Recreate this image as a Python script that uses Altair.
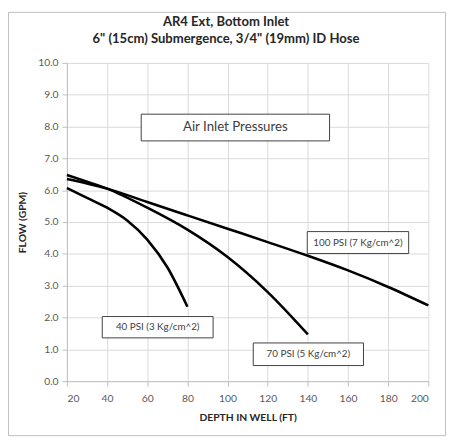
import altair as alt
import pandas as pd

# Series data
depth_40 = [20, 30, 40, 50, 60, 70, 80]
flow_40 = [6.07, 5.76, 5.45, 5.05, 4.45, 3.58, 2.34]
depth_70 = [20, 30, 40, 60, 80, 100, 120, 140]
flow_70 = [6.48, 6.27, 6.05, 5.45, 4.76, 3.90, 2.80, 1.47]
depth_100 = [20, 30, 40, 60, 80, 100, 120, 140, 160, 180, 200]
flow_100 = [6.35, 6.21, 6.05, 5.63, 5.21, 4.79, 4.37, 3.94, 3.48, 2.96, 2.38]

# Annotation boxes
label_text = ["Air Inlet Pressures", "100 PSI (7 Kg/cm^2)", "40 PSI (3 Kg/cm^2)", "70 PSI (5 Kg/cm^2)"]
box_x1 = [57, 139.7, 37.6, 112.8]
box_x2 = [150.8, 190.2, 92.8, 167.7]
box_y1 = [7.55, 4.01, 1.36, 0.49]
box_y2 = [8.39, 4.70, 2.03, 1.20]
label_size = [13.5, 10, 10, 10]

title_lines = ["AR4 Ext, Bottom Inlet", "6\" (15cm) Submergence, 3/4\" (19mm) ID Hose"]

x_ticks = [20, 40, 60, 80, 100, 120, 140, 160, 180, 200]
y_ticks = [0, 1, 2, 3, 4, 5, 6, 7, 8, 9, 10]

FONT = "Lato"

rows = []
for name, xs, ys in [("40", depth_40, flow_40), ("70", depth_70, flow_70), ("100", depth_100, flow_100)]:
    for x, y in zip(xs, ys):
        rows.append({"series": name, "depth": x, "flow": y})
df = pd.DataFrame(rows)

boxes = pd.DataFrame({
    "text": label_text,
    "x1": box_x1, "x2": box_x2, "y1": box_y1, "y2": box_y2,
    "xc": [(a + b) / 2 for a, b in zip(box_x1, box_x2)],
    "yc": [(a + b) / 2 for a, b in zip(box_y1, box_y2)],
    "size": label_size,
})

xscale = alt.Scale(domain=[20, 200], nice=False, zero=False)
yscale = alt.Scale(domain=[0, 10], nice=False)

xaxis = alt.Axis(values=x_ticks, title="DEPTH IN WELL (FT)", grid=True, gridColor="#d9d9d9",
                 domainColor="#bfbfbf", tickColor="#bfbfbf", tickSize=5, labelColor="#595959",
                 labelFontSize=10.5, labelFont=FONT, titleFont=FONT, titleFontSize=10.5,
                 titleFontWeight="bold", titleColor="#262626", labelPadding=8, titlePadding=9,
                 labelOverlap=False)
yaxis = alt.Axis(values=y_ticks, format=".1f", title="FLOW (GPM)", grid=True, gridColor="#d9d9d9",
                 domainColor="#bfbfbf", tickColor="#bfbfbf", tickSize=5, labelColor="#595959",
                 labelFontSize=10.5, labelFont=FONT, titleFont=FONT, titleFontSize=10.5,
                 titleFontWeight="bold", titleColor="#262626", labelPadding=4, titlePadding=10,
                 labelOverlap=False)

lines = alt.Chart(df).mark_line(color="black", strokeWidth=2.6, interpolate="monotone").encode(
    x=alt.X("depth:Q", scale=xscale, axis=xaxis),
    y=alt.Y("flow:Q", scale=yscale, axis=yaxis),
    detail="series:N",
)

rects = alt.Chart(boxes).mark_rect(fill="white", stroke="#404040", strokeWidth=1).encode(
    x=alt.X("x1:Q", scale=xscale, axis=xaxis), x2="x2:Q",
    y=alt.Y("y1:Q", scale=yscale, axis=yaxis), y2="y2:Q",
)

texts = alt.Chart(boxes).mark_text(font=FONT, color="#404040", baseline="middle", align="center").encode(
    x=alt.X("xc:Q", scale=xscale, axis=xaxis),
    y=alt.Y("yc:Q", scale=yscale, axis=yaxis),
    text="text:N",
    size=alt.Size("size:Q", scale=None, legend=None),
)

frame = alt.Chart(pd.DataFrame({"a": [0]})).mark_rect(fill=None, stroke="#bfbfbf", strokeWidth=1).encode(
    x=alt.value(-59.5), x2=alt.value(385.5), y=alt.value(-51.5), y2=alt.value(379.5)
)

title_df = pd.DataFrame({"t": title_lines, "row": [0, 1]})
title1 = alt.Chart(title_df).transform_filter("datum.row == 0").mark_text(
    font=FONT, fontSize=13.3, fontWeight="bold", color="#262626", align="center", baseline="middle"
).encode(text="t:N", x=alt.value(162), y=alt.value(-42))
title2 = alt.Chart(title_df).transform_filter("datum.row == 1").mark_text(
    font=FONT, fontSize=13.3, fontWeight="bold", color="#262626", align="center", baseline="middle"
).encode(text="t:N", x=alt.value(162), y=alt.value(-24))

chart = alt.layer(lines, frame, rects, texts, title1, title2).properties(
    width=368,
    height=324,
    autosize=alt.AutoSizeParams(type="none"),
    padding={"left": 60, "top": 52, "right": 19, "bottom": 57},
).configure_view(stroke=None)

chart.save("out.html", embed_options={"renderer": "svg", "actions": False})
